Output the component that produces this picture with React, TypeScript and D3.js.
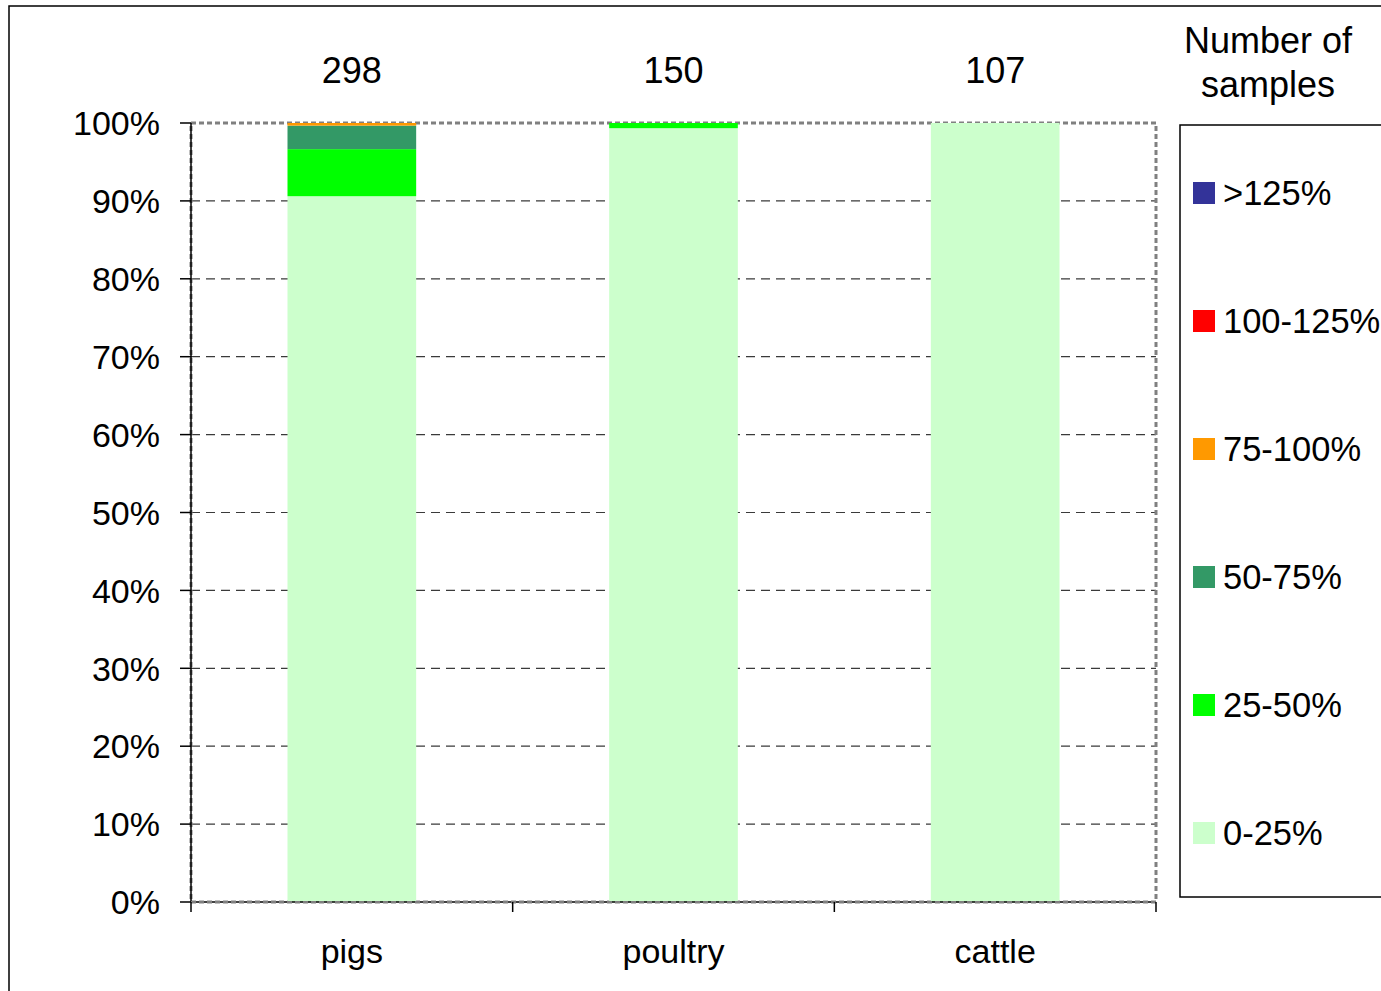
import React from "react";
import * as d3 from "d3";

// Sample counts per concentration class (share of the limit), per animal species
const categories = ["pigs", "poultry", "cattle"];
const sampleTotals = [298, 150, 107];
const count0to25 = [270, 149, 107];
const count25to50 = [18, 1, 0];
const count50to75 = [9, 0, 0];
const count75to100 = [1, 0, 0];
const count100to125 = [0, 0, 0];
const countOver125 = [0, 0, 0];

const classKeys = ["0-25%", "25-50%", "50-75%", "75-100%", "100-125%", ">125%"];
const classColors = ["#CCFFCC", "#00FF00", "#339966", "#FF9900", "#FF0000", "#333399"];
const yTicks = [0, 10, 20, 30, 40, 50, 60, 70, 80, 90, 100];

const W = 1381;
const H = 991;
const plot = { left: 191, right: 1156, top: 123, bottom: 902 };
const FONT = "'Liberation Sans', Arial, Helvetica, sans-serif";

export default function App() {
  const classCounts = [count0to25, count25to50, count50to75, count75to100, count100to125, countOver125];
  const rows = categories.map((c, i) => {
    const row: Record<string, any> = { category: c };
    classKeys.forEach((k, j) => {
      row[k] = (classCounts[j][i] / sampleTotals[i]) * 100;
    });
    return row;
  });

  const x = d3
    .scaleBand<string>()
    .domain(categories)
    .range([plot.left, plot.right])
    .paddingInner(0.6)
    .paddingOuter(0.3);
  const xCat = d3.scaleBand<string>().domain(categories).range([plot.left, plot.right]).padding(0);
  const y = d3.scaleLinear().domain([0, 100]).range([plot.bottom, plot.top]);

  const stacked = d3.stack<Record<string, any>>().keys(classKeys)(rows);

  const legendItems = classKeys
    .map((k, i) => ({ key: k, color: classColors[i] }))
    .reverse();
  const legendY = d3.scalePoint<string>().domain(legendItems.map((d) => d.key)).range([193, 833]);

  const catBoundaries = [...categories.map((c) => xCat(c) as number), plot.right];

  return (
    <svg
      width={W}
      height={H}
      style={{ position: "absolute", left: 0, top: 0, background: "#fff" }}
      fontFamily={FONT}
    >
      <rect x={0} y={0} width={W} height={H} fill="#fff" />
      {/* outer chart frame */}
      <rect x={9} y={6} width={W + 20} height={H + 20} fill="none" stroke="#000" strokeWidth={1.5} />

      {/* horizontal gridlines */}
      {yTicks
        .filter((t) => t > 0 && t < 100)
        .map((t) => (
          <line
            key={"g" + t}
            x1={plot.left}
            x2={plot.right}
            y1={y(t)}
            y2={y(t)}
            stroke="#3a3a3a"
            strokeWidth={1.2}
            strokeDasharray="9,6"
          />
        ))}

      {/* plot area border (dotted) */}
      <rect
        x={plot.left}
        y={plot.top}
        width={plot.right - plot.left}
        height={plot.bottom - plot.top}
        fill="none"
        stroke="#808080"
        strokeWidth={3}
        strokeDasharray="5,3"
      />

      {/* stacked bars */}
      {stacked.map((layer, li) => (
        <g key={layer.key} fill={classColors[li]}>
          {layer.map((d, i) => {
            const h = y(d[0]) - y(d[1]);
            if (h <= 0) return null;
            return (
              <rect
                key={categories[i]}
                x={x(categories[i])}
                y={y(d[1])}
                width={x.bandwidth()}
                height={h}
              />
            );
          })}
        </g>
      ))}

      {/* y axis */}
      <line x1={plot.left} x2={plot.left} y1={plot.top} y2={plot.bottom} stroke="#000" strokeWidth={1.5} />
      {yTicks.map((t) => (
        <g key={"y" + t}>
          <line x1={plot.left - 11} x2={plot.left} y1={y(t)} y2={y(t)} stroke="#000" strokeWidth={1.5} />
          <text x={160} y={y(t)} dy="0.36em" textAnchor="end" fontSize={34} fill="#000">
            {t}%
          </text>
        </g>
      ))}

      {/* x axis */}
      <line x1={plot.left} x2={plot.right} y1={plot.bottom} y2={plot.bottom} stroke="#000" strokeWidth={1.5} />
      <line
        x1={plot.left}
        x2={plot.right}
        y1={plot.bottom}
        y2={plot.bottom}
        stroke="#808080"
        strokeWidth={2}
        strokeDasharray="5,3"
      />
      {catBoundaries.map((bx, i) => (
        <line key={"xt" + i} x1={bx} x2={bx} y1={plot.bottom} y2={plot.bottom + 10} stroke="#000" strokeWidth={1.5} />
      ))}
      {categories.map((c) => (
        <text
          key={"xl" + c}
          x={(xCat(c) as number) + xCat.bandwidth() / 2}
          y={963}
          textAnchor="middle"
          fontSize={34}
          fill="#000"
        >
          {c}
        </text>
      ))}

      {/* sample totals above bars */}
      {categories.map((c, i) => (
        <text
          key={"n" + c}
          x={(x(c) as number) + x.bandwidth() / 2}
          y={83}
          textAnchor="middle"
          fontSize={36}
          fill="#000"
        >
          {sampleTotals[i]}
        </text>
      ))}

      {/* legend title */}
      <text x={1268} y={53} textAnchor="middle" fontSize={36} fill="#000">
        Number of
      </text>
      <text x={1268} y={97} textAnchor="middle" fontSize={36} fill="#000">
        samples
      </text>

      {/* legend */}
      <rect x={1180} y={125} width={240} height={772} fill="#fff" stroke="#000" strokeWidth={1.5} />
      {legendItems.map((item) => {
        const cy = legendY(item.key) as number;
        return (
          <g key={"lg" + item.key}>
            <rect x={1193} y={cy - 11} width={22} height={22} fill={item.color} />
            <text x={1223} y={cy} dy="0.36em" fontSize={34.5} fill="#000">
              {item.key}
            </text>
          </g>
        );
      })}
    </svg>
  );
}
